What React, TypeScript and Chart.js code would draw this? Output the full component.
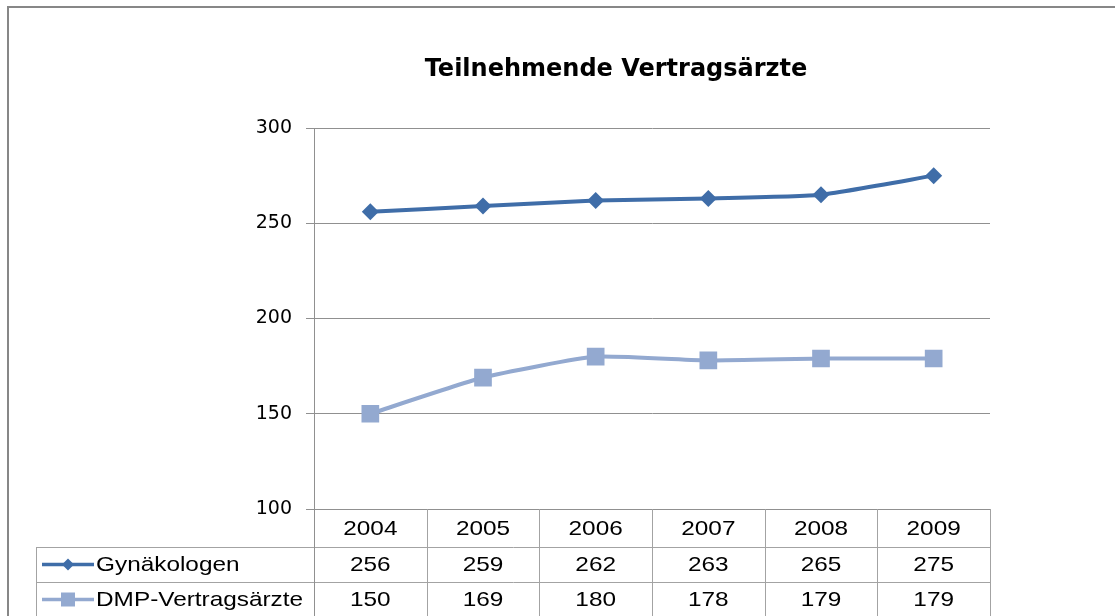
import React, { useEffect, useRef } from "react";
import { Chart, registerables } from "chart.js";

Chart.register(...registerables);

const years = ["2004", "2005", "2006", "2007", "2008", "2009"];
const gynaekologen = [256, 259, 262, 263, 265, 275];
const dmpAerzte = [150, 169, 180, 178, 179, 179];
const seriesNames = ["Gynäkologen", "DMP-Vertragsärzte"];
const yMin = 100;
const yMax = 300;
const yStep = 50;

const COLOR1 = "#3F6DA8";
const COLOR2 = "#93A9D0";
const GRID = "#909090";
const TABLE_LINE = "#a3a3a3";

const frameLegendLeft = 36;
const rowHeights = [38, 35, 35];
const tableFont = "21px 'Liberation Sans', Arial, sans-serif";
const textScaleX = 1.16;

function drawScaledText(ctx: CanvasRenderingContext2D, text: string, x: number, y: number, align: CanvasTextAlign) {
  ctx.save();
  ctx.translate(x, y);
  ctx.scale(textScaleX, 1);
  ctx.textAlign = align;
  ctx.textBaseline = "middle";
  ctx.fillText(text, 0, 0);
  ctx.restore();
}

const framePlugin = {
  id: "frame",
  beforeDraw(chart: any) {
    const ctx = chart.ctx as CanvasRenderingContext2D;
    ctx.save();
    ctx.fillStyle = "#ffffff";
    ctx.fillRect(0, 0, chart.width, chart.height);
    ctx.strokeStyle = "#878787";
    ctx.lineWidth = 2;
    ctx.strokeRect(8, 7, chart.width + 20, chart.height + 20);
    ctx.restore();
  },
};

const tablePlugin = {
  id: "dataTable",
  afterDraw(chart: any) {
    const ctx = chart.ctx as CanvasRenderingContext2D;
    const area = chart.chartArea;
    const xs = chart.scales.x;
    const labels = chart.data.labels as string[];
    const n = labels.length;
    const w = (area.right - area.left) / n;
    const top = area.bottom;
    const r1 = top + rowHeights[0];
    const r2 = r1 + rowHeights[1];
    const r3 = r2 + rowHeights[2];
    const bottom = chart.height + 2;

    ctx.save();
    ctx.lineWidth = 1;
    ctx.strokeStyle = TABLE_LINE;
    ctx.beginPath();
    for (let i = 1; i <= n; i++) {
      const xx = Math.round(area.left + i * w) + 0.5;
      ctx.moveTo(xx, top);
      ctx.lineTo(xx, bottom);
    }
    ctx.moveTo(frameLegendLeft + 0.5, r1);
    ctx.lineTo(frameLegendLeft + 0.5, bottom);
    [r1, r2].forEach((yy) => {
      ctx.moveTo(frameLegendLeft, Math.round(yy) + 0.5);
      ctx.lineTo(Math.round(area.right) + 1, Math.round(yy) + 0.5);
    });
    ctx.stroke();
    ctx.strokeStyle = GRID;
    ctx.beginPath();
    ctx.moveTo(Math.round(area.left) + 0.5, top);
    ctx.lineTo(Math.round(area.left) + 0.5, bottom);
    ctx.stroke();

    ctx.fillStyle = "#000000";
    ctx.font = tableFont;
    const c0 = (top + r1) / 2 + 1;
    const c1 = (r1 + r2) / 2 + 1;
    const c2 = (r2 + r3) / 2 + 1;
    labels.forEach((lab, i) => {
      const cx = xs.getPixelForValue(i);
      drawScaledText(ctx, lab, cx, c0, "center");
      const datasets = chart.data.datasets;
      drawScaledText(ctx, String(datasets[0].data[i]), cx, c1, "center");
      drawScaledText(ctx, String(datasets[1].data[i]), cx, c2, "center");
    });

    const keyL = 42;
    const keyR = 94;
    const keyC = 68;
    const rowCenters = [c1 - 1, c2 - 1];
    chart.data.datasets.forEach((ds: any, k: number) => {
      const cy = rowCenters[k];
      ctx.strokeStyle = ds.borderColor;
      ctx.lineWidth = 3.5;
      ctx.beginPath();
      ctx.moveTo(keyL, cy);
      ctx.lineTo(keyR, cy);
      ctx.stroke();
      ctx.fillStyle = ds.borderColor;
      ctx.beginPath();
      if (k === 0) {
        const r = 6;
        ctx.moveTo(keyC, cy - r);
        ctx.lineTo(keyC + r, cy);
        ctx.lineTo(keyC, cy + r);
        ctx.lineTo(keyC - r, cy);
        ctx.closePath();
      } else {
        const h = 7;
        ctx.rect(keyC - h, cy - h, 2 * h, 2 * h);
      }
      ctx.fill();
      ctx.fillStyle = "#000000";
      drawScaledText(ctx, ds.label, 96, cy + 1, "left");
    });
    ctx.restore();
  },
};

export default function App() {
  const ref = useRef<HTMLCanvasElement | null>(null);

  useEffect(() => {
    if (!ref.current) return;
    const chart = new Chart(ref.current, {
      type: "line",
      data: {
        labels: years,
        datasets: [
          {
            label: seriesNames[0],
            data: gynaekologen,
            borderColor: COLOR1,
            backgroundColor: COLOR1,
            borderWidth: 4,
            pointStyle: "rectRot",
            pointRadius: 8.5,
            pointHoverRadius: 8.5,
            pointBorderWidth: 0,
            tension: 0.15,
          },
          {
            label: seriesNames[1],
            data: dmpAerzte,
            borderColor: COLOR2,
            backgroundColor: COLOR2,
            borderWidth: 4,
            pointStyle: "rect",
            pointRadius: 12.5,
            pointHoverRadius: 12.5,
            pointBorderWidth: 0,
            tension: 0.15,
          },
        ],
      },
      options: {
        responsive: false,
        animation: false,
        devicePixelRatio: 1,
        layout: { padding: { left: 242, right: 125, top: 0, bottom: 107 } },
        plugins: {
          legend: { display: false },
          tooltip: { enabled: false },
          title: {
            display: true,
            text: "Teilnehmende Vertragsärzte",
            color: "#000000",
            font: { family: "'DejaVu Sans', Verdana, sans-serif", size: 24, weight: "bold", lineHeight: 1.2 },
            padding: { top: 55.6, bottom: 43.6 },
          },
        },
        scales: {
          x: {
            display: false,
            offset: true,
          },
          y: {
            min: yMin,
            max: yMax,
            afterFit: (s: any) => {
              s.width = 72;
            },
            ticks: {
              stepSize: yStep,
              color: "#000000",
              padding: 14,
              font: { family: "'DejaVu Sans', Verdana, sans-serif", size: 19 },
            },
            grid: {
              color: GRID,
              lineWidth: 1,
              drawTicks: true,
              tickLength: 8,
            },
            border: { color: GRID, width: 1 },
          },
        },
      },
      plugins: [framePlugin, tablePlugin],
    });
    return () => chart.destroy();
  }, []);

  return (
    <div style={{ position: "absolute", left: 0, top: 0, width: 1115, height: 616 }}>
      <canvas ref={ref} width={1115} height={616} style={{ display: "block", width: 1115, height: 616 }} />
    </div>
  );
}
